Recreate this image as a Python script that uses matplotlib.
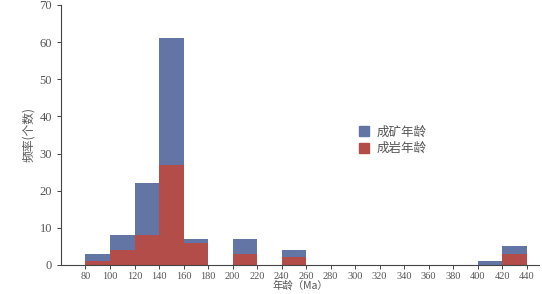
import numpy as np
import matplotlib
matplotlib.use('Agg')
import matplotlib.pyplot as plt
from matplotlib.patches import Patch

# bin left edges (Ma), bins are 20 Ma wide
bin_left = [80, 100, 120, 140, 160, 180, 200, 220, 240, 260, 280, 300, 320, 340, 360, 380, 400, 420]
ore_ages = [3, 8, 22, 61, 7, 0, 7, 0, 4, 0, 0, 0, 0, 0, 0, 0, 1, 5]     # 成矿年龄
rock_ages = [1, 4, 8, 27, 6, 0, 3, 0, 2, 0, 0, 0, 0, 0, 0, 0, 0, 3]    # 成岩年龄
xticks = list(range(80, 441, 20))
yticks = list(range(0, 71, 10))

blue = '#6275a4'
red = '#b34d4a'
grey = '#555555'
serif = ['Liberation Serif', 'DejaVu Serif']
cjk = ['Noto Sans CJK SC', 'DejaVu Sans']

fig = plt.figure(figsize=(5.42, 2.94), dpi=100)
ax = fig.add_axes([0.1125, 0.099, 0.882, 0.884])

ax.bar(bin_left, ore_ages, width=20, align='edge', color=blue, linewidth=0)
ax.bar(bin_left, rock_ages, width=20, align='edge', color=red, linewidth=0)

ax.set_xlim(60, 450)
ax.set_ylim(0, 70)
ax.set_xticks(xticks)
ax.set_yticks(yticks)
for sp in ['top', 'right']:
    ax.spines[sp].set_visible(False)
for sp in ['left', 'bottom']:
    ax.spines[sp].set_color('#444444')
    ax.spines[sp].set_linewidth(0.8)
ax.tick_params(length=3, width=0.7, color='#444444', labelcolor=grey)
ax.tick_params(axis='x', pad=2)
for lab in ax.get_xticklabels():
    lab.set_family(serif)
    lab.set_fontsize(7.5)
for lab in ax.get_yticklabels():
    lab.set_family(serif)
    lab.set_fontsize(9)

ax.set_xlabel('年龄（Ma）', family=cjk, fontsize=7.5, color=grey, labelpad=0)
ax.set_ylabel('频率(个数)', family=cjk, fontsize=8.5, color=grey, labelpad=3)

handles = [Patch(color=blue, label='成矿年龄'), Patch(color=red, label='成岩年龄')]
ax.legend(handles=handles, loc='upper left', bbox_to_anchor=(0.6, 0.58), frameon=False,
          prop={'family': cjk, 'size': 9}, handlelength=0.8, handleheight=0.8,
          handletextpad=0.6, labelspacing=0.3, labelcolor=grey)

fig.savefig('out.png', dpi=100)
